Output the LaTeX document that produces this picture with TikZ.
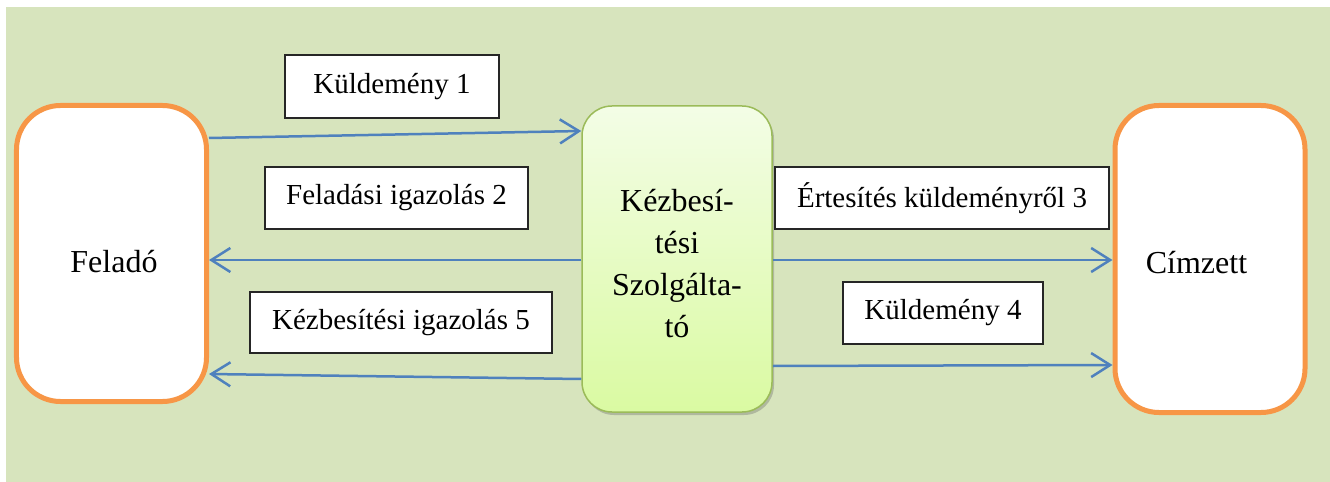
\documentclass[tikz,border=0pt]{standalone}
\usepackage{fontspec}
\setmainfont{LiberationSerif}[Extension=.ttf, UprightFont=*-Regular,
  BoldFont=*-Bold, ItalicFont=*-Italic, BoldItalicFont=*-BoldItalic]
\newfontfamily\timesface{LiberationSerif}[Extension=.ttf, UprightFont=*-Regular]
\usetikzlibrary{arrows.meta,shadows}

\definecolor{bgreen}{HTML}{D7E4BD}
\definecolor{porange}{HTML}{F79646}
\definecolor{flowblue}{HTML}{4F81BD}
\definecolor{olive}{HTML}{9BBB59}
\definecolor{midtop}{HTML}{F3FDE6}
\definecolor{midbot}{HTML}{DAFAA2}

\tikzset{
  party/.style={draw=porange, line width=5bp, fill=white, rounded corners=44bp,
    minimum width=190bp, inner sep=0pt},
  hub/.style={draw=olive, line width=1.5bp, top color=midtop, bottom color=midbot,
    rounded corners=30bp, minimum width=190bp, minimum height=306bp, inner sep=0pt,
    drop shadow={shadow xshift=2bp, shadow yshift=-3bp, opacity=0.35, fill=black!60}},
  tag/.style={draw=black!85, line width=1.3bp, fill=white, inner sep=0pt,
    font=\timesface\fontsize{29bp}{34bp}\selectfont},
  bigtext/.style={font=\timesface\fontsize{32bp}{42bp}\selectfont},
  flow/.style={draw=flowblue, line width=2.5bp,
    -{Straight Barb[length=19bp,width=24bp,line width=2.5bp]}},
}

\begin{document}
\begin{tikzpicture}[x=1bp,y=-1bp]
  \useasboundingbox (0,0) rectangle (1330,482);
  \fill[white] (0,0) rectangle (1330,482);
  \fill[bgreen] (6,7) rectangle (1330,482);

  % the three parties
  \node[party, minimum height=296bp] (sender) at (111.5,253.5) {};
  \node[hub] (carrier) at (677,259) {};
  \node[party, minimum height=307bp] (recipient) at (1210,259) {};

  \node[bigtext, anchor=base] (sendertxt) at (114,272) {Feladó};
  \node[bigtext, anchor=base] (recipienttxt) at (1196.5,273) {Címzett};
  \node[bigtext, align=center] (carriertxt) at (677,264)
    {Kézbesí-\\tési\\Szolgálta-\\tó};

  % message labels
  \node[tag, minimum width=214bp, minimum height=63bp] (l1) at (392,86.5) {Küldemény 1};
  \node[tag, minimum width=263bp, minimum height=62bp] (l2) at (396.5,198) {Feladási igazolás 2};
  \node[tag, minimum width=334bp, minimum height=62bp] (l3) at (942,198) {Értesítés küldeményről 3};
  \node[tag, minimum width=200bp, minimum height=62bp] (l4) at (943,313) {Küldemény 4};
  \node[tag, minimum width=302bp, minimum height=61bp] (l5) at (401,322.5) {Kézbesítési igazolás 5};

  % message flows
  \draw[flow] (sender.east |- 0,138) -- (carrier.west |- 0,131);
  \draw[flow] (carrier.west |- 0,260) -- (sender.east |- 0,260);
  \draw[flow] (carrier.east |- 0,260) -- (recipient.west |- 0,260);
  \draw[flow] (carrier.east |- 0,366) -- (recipient.west |- 0,365);
  \draw[flow] (carrier.west |- 0,379) -- (sender.east |- 0,374);
\end{tikzpicture}
\end{document}
